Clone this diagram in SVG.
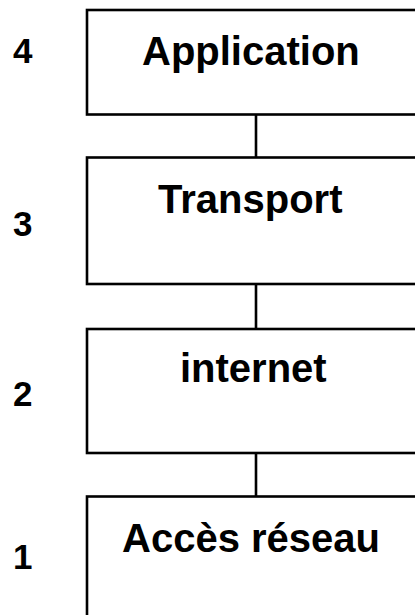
<svg xmlns="http://www.w3.org/2000/svg" width="415" height="615" viewBox="0 0 415 615">
<style>
.box{fill:#fff;stroke:#000;stroke-width:2.6}
.conn{stroke:#000;stroke-width:2.6;fill:none}
.lbl{font-family:"Liberation Sans",Arial,sans-serif;font-weight:bold;font-size:40px;fill:#000}
.num{font-family:"Liberation Sans",Arial,sans-serif;font-weight:bold;font-size:35px;fill:#000}
</style>
<rect width="415" height="615" fill="#fff"/>
<g id="connectors">
<line class="conn" x1="256" y1="114.5" x2="256" y2="157.5"/>
<line class="conn" x1="256" y1="284" x2="256" y2="329"/>
<line class="conn" x1="256" y1="453" x2="256" y2="496.5"/>
</g>
<g id="layer4">
<rect class="box" x="87" y="10" width="340" height="104.5"/>
<text class="lbl" x="142" y="65">Application</text>
<text class="num" x="13" y="63">4</text>
</g>
<g id="layer3">
<rect class="box" x="87" y="157.5" width="340" height="126.5"/>
<text class="lbl" x="158" y="213">Transport</text>
<text class="num" x="13" y="236">3</text>
</g>
<g id="layer2">
<rect class="box" x="87" y="329" width="340" height="124"/>
<text class="lbl" x="180" y="382">internet</text>
<text class="num" x="13" y="406">2</text>
</g>
<g id="layer1">
<rect class="box" x="87" y="496.5" width="340" height="140"/>
<text class="lbl" x="122" y="552">Accès réseau</text>
<text class="num" x="13" y="569">1</text>
</g>
</svg>
